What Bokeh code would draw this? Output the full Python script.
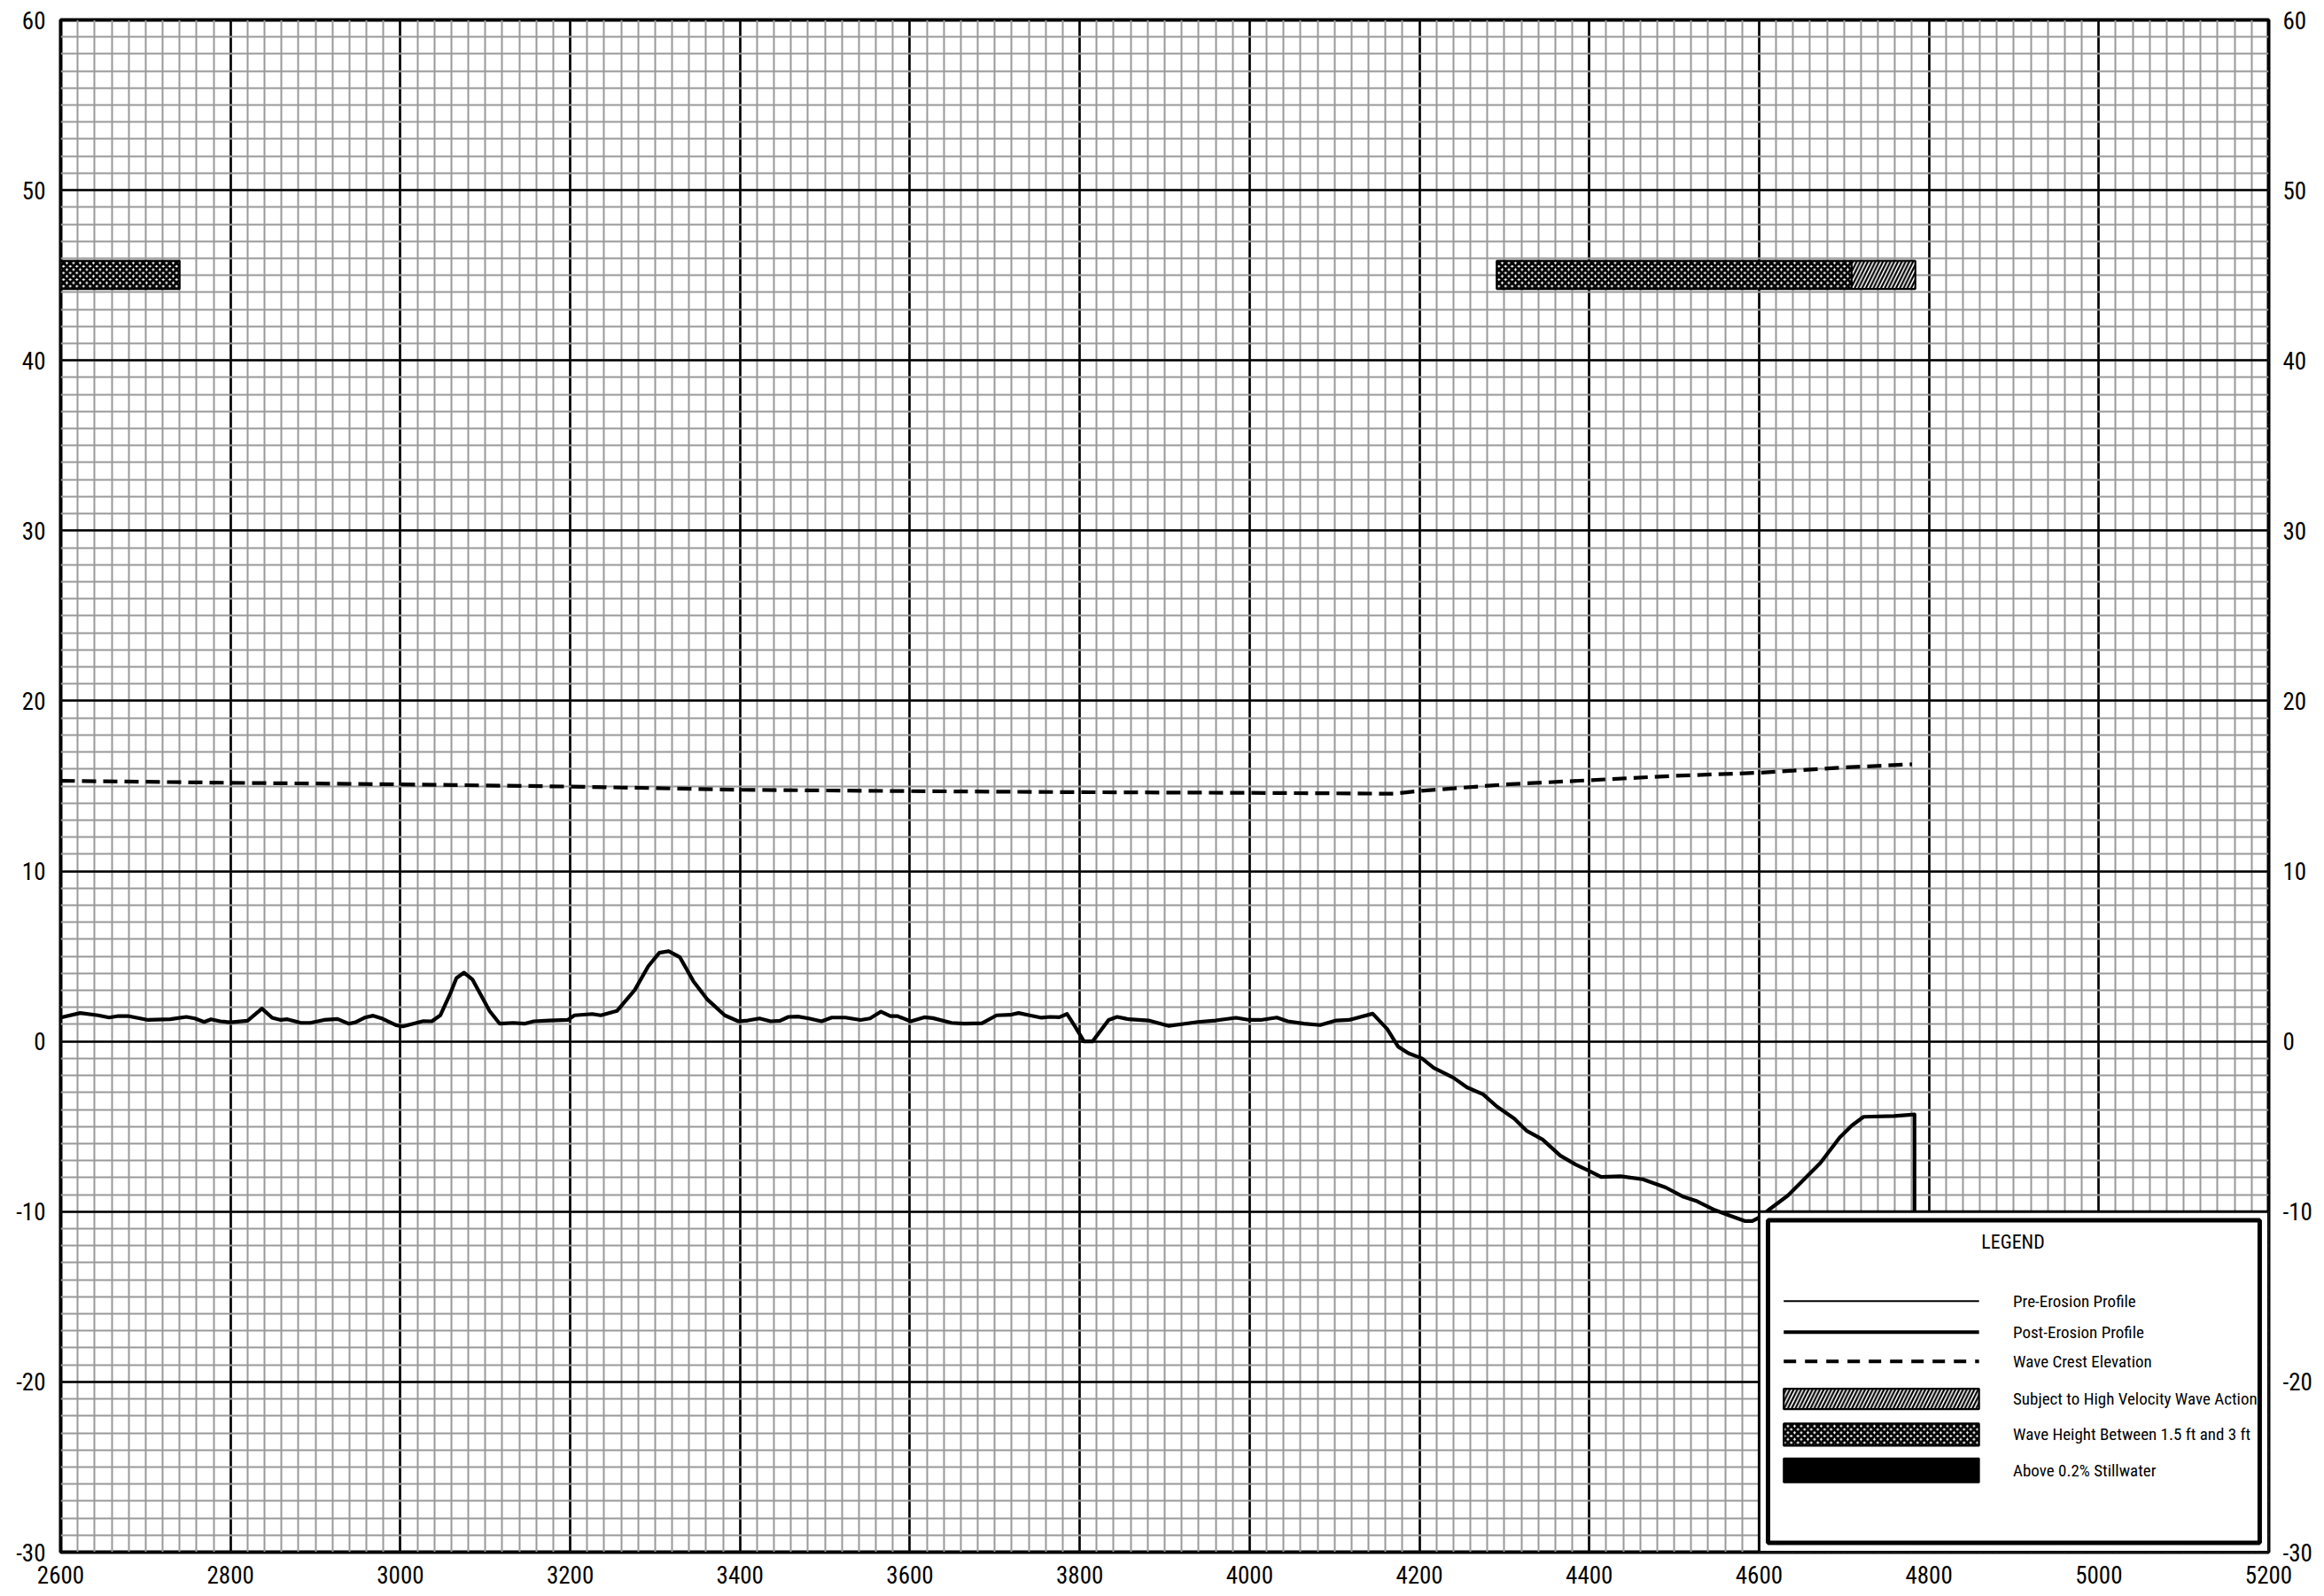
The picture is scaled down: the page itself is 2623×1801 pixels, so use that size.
from bokeh.plotting import figure
from bokeh.models import SingleIntervalTicker, LinearAxis, Range1d, PrintfTickFormatter
from bokeh.core.properties import value
from bokeh.embed import file_html
from bokeh.resources import INLINE

FONT = "'Liberation Sans Narrow', 'Roboto Condensed', 'Noto Sans Condensed', 'Liberation Sans', sans-serif"

# ---- data ----
profile_x = [2600, 2623, 2644, 2657, 2668, 2679, 2703, 2729, 2748, 2758, 2769, 2777, 2788, 2800,
             2820, 2837, 2849, 2859, 2867, 2883, 2894, 2910, 2926, 2939, 2947, 2958, 2968, 2979,
             2995, 3003, 3016, 3027, 3037, 3047, 3059, 3066, 3075, 3085, 3105, 3117, 3133, 3146,
             3157, 3175, 3197, 3205, 3226, 3236, 3255, 3276, 3292, 3305, 3316, 3329, 3345, 3361,
             3382, 3398, 3409, 3423, 3436, 3447, 3457, 3468, 3481, 3496, 3508, 3524, 3542, 3553,
             3566, 3577, 3585, 3601, 3617, 3627, 3649, 3664, 3685, 3702, 3718, 3728, 3741, 3755,
             3765, 3776, 3785, 3794, 3805, 3815, 3834, 3844, 3858, 3881, 3905, 3918, 3939, 3960,
             3984, 4000, 4013, 4032, 4045, 4064, 4083, 4102, 4117, 4145, 4162, 4175, 4187, 4203,
             4217, 4226, 4240, 4256, 4275, 4291, 4312, 4326, 4345, 4366, 4384, 4400, 4414, 4437,
             4463, 4490, 4511, 4527, 4548, 4564, 4583, 4592, 4600, 4611, 4634, 4653, 4672, 4695,
             4709, 4723, 4759, 4783, 4783]
profile_y = [1.40, 1.67, 1.53, 1.40, 1.49, 1.49, 1.26, 1.30, 1.44, 1.35, 1.14, 1.30, 1.18, 1.12,
             1.21, 1.93, 1.39, 1.26, 1.30, 1.09, 1.09, 1.26, 1.32, 1.04, 1.12, 1.40, 1.51, 1.33,
             0.95, 0.88, 1.05, 1.19, 1.18, 1.53, 2.84, 3.72, 4.04, 3.63, 1.79, 1.04, 1.09, 1.04,
             1.18, 1.23, 1.26, 1.53, 1.61, 1.53, 1.79, 3.02, 4.42, 5.21, 5.30, 4.95, 3.54, 2.49,
             1.53, 1.18, 1.23, 1.35, 1.18, 1.21, 1.44, 1.46, 1.35, 1.18, 1.40, 1.40, 1.26, 1.35,
             1.75, 1.49, 1.49, 1.18, 1.42, 1.37, 1.09, 1.04, 1.07, 1.53, 1.56, 1.67, 1.53, 1.39,
             1.44, 1.42, 1.61, 0.91, 0.00, 0.00, 1.26, 1.44, 1.30, 1.23, 0.91, 1.00, 1.14, 1.23,
             1.39, 1.26, 1.26, 1.40, 1.18, 1.04, 0.96, 1.23, 1.26, 1.63, 0.73, -0.31, -0.69, -1.00,
             -1.56, -1.78, -2.13, -2.70, -3.11, -3.82, -4.55, -5.24, -5.76, -6.71, -7.23, -7.61, -7.96, -7.92,
             -8.10, -8.58, -9.13, -9.39, -9.91, -10.21, -10.55, -10.55, -10.35, -9.91, -9.05, -8.10, -7.15, -5.64,
             -4.95, -4.43, -4.38, -4.29, -12.0]

crest_x = [2600, 2800, 3000, 3200, 3400, 3600, 3800, 4000, 4170, 4200, 4300, 4400, 4500, 4600, 4700, 4780]
crest_y = [15.31, 15.19, 15.10, 14.97, 14.78, 14.70, 14.64, 14.60, 14.55, 14.71, 15.09, 15.34, 15.60, 15.78, 16.09, 16.28]

zone_left = [2600, 4291, 4709]
zone_right = [2740, 4709, 4784]
zone_hatch = ["x", "x", "/"]
zone_bottom = 44.2
zone_top = 45.85

legend_title = "LEGEND"
legend_labels = ["Pre-Erosion Profile", "Post-Erosion Profile", "Wave Crest Elevation",
                 "Subject to High Velocity Wave Action", "Wave Height Between 1.5 ft and 3 ft",
                 "Above 0.2% Stillwater"]

x_start, x_end, x_step = 2600, 5200, 200
y_start, y_end, y_step = -30, 60, 10

HATCH = {"x": dict(hatch_scale=7.5, hatch_weight=3.0), "/": dict(hatch_scale=8.5, hatch_weight=2.2)}

# ---- figure ----
p = figure(frame_width=2492, frame_height=1729,
           x_range=Range1d(x_start, x_end), y_range=Range1d(y_start, y_end),
           output_backend="svg", toolbar_location=None,
           min_border_left=68, min_border_right=58, min_border_top=22, min_border_bottom=47)
p.background_fill_color = "white"
p.outline_line_color = "black"
p.outline_line_width = 4

xt = SingleIntervalTicker(interval=x_step, num_minor_ticks=10)
yt = SingleIntervalTicker(interval=y_step, num_minor_ticks=10)
p.xaxis.ticker = xt
p.yaxis.ticker = yt
p.xgrid.ticker = xt
p.ygrid.ticker = yt

for g in (p.xgrid, p.ygrid):
    g.grid_line_color = "black"
    g.grid_line_width = 2.6
    g.grid_line_alpha = 1.0
    g.minor_grid_line_color = "#999999"
    g.minor_grid_line_width = 2

right_axis = LinearAxis(ticker=SingleIntervalTicker(interval=y_step, num_minor_ticks=0))
p.add_layout(right_axis, "right")

for ax in p.axis:
    ax.formatter = PrintfTickFormatter(format="%d")
    ax.axis_line_color = None
    ax.major_tick_line_color = None
    ax.minor_tick_line_color = None
    ax.major_tick_out = 0
    ax.major_tick_in = 0
    ax.minor_tick_out = 0
    ax.minor_tick_in = 0
    ax.major_label_text_font = FONT
    ax.major_label_text_font_size = "27px"
    ax.major_label_text_color = "black"
p.xaxis.major_label_standoff = 15
p.yaxis.major_label_standoff = 17
right_axis.major_label_standoff = 16

# wave zones
for l, r, h in zip(zone_left, zone_right, zone_hatch):
    p.quad(left=[l], right=[r], bottom=[zone_bottom], top=[zone_top],
           fill_color="white", hatch_pattern=h, hatch_color="black", **HATCH[h],
           line_color="black", line_width=2.2)

# wave crest
p.line(crest_x, crest_y, line_color="black", line_width=4.2, line_dash="16 8")
# profile
p.line(profile_x, profile_y, line_color="black", line_width=4.2, line_join="round")

# legend box
p.quad(left=[4600], right=[5200], bottom=[-30], top=[-10], fill_color="white",
       line_color="black", line_width=3)
p.quad(left=[4610.5], right=[5189.5], bottom=[-29.45], top=[-10.5], fill_color=None,
       line_color="black", line_width=5)

p.text(x=[4899], y=[-11.8], text=[legend_title], text_font=value(FONT), text_font_size="22px",
       text_align="center", text_baseline="middle", text_color="black")

lx0, lx1 = 4629, 4859
rows = [-15.25, -17.08, -18.8, -21.0, -23.1, -25.2]
p.line([lx0, lx1], [rows[0], rows[0]], line_color="black", line_width=2)
p.line([lx0, lx1], [rows[1], rows[1]], line_color="black", line_width=4)
p.line([lx0, lx1], [rows[2], rows[2]], line_color="black", line_width=4, line_dash="14 10")
p.quad(left=[lx0], right=[lx1], bottom=[rows[3] - 0.6], top=[rows[3] + 0.6], fill_color="white",
       hatch_pattern="/", hatch_color="black", **HATCH["/"],
       line_color="black", line_width=2.2)
p.quad(left=[lx0], right=[lx1], bottom=[rows[4] - 0.65], top=[rows[4] + 0.65], fill_color="white",
       hatch_pattern="x", hatch_color="black", **HATCH["x"],
       line_color="black", line_width=2.2)
p.quad(left=[lx0], right=[lx1], bottom=[rows[5] - 0.7], top=[rows[5] + 0.7], fill_color="black",
       line_color="black", line_width=2)

p.text(x=[4899] * len(legend_labels), y=rows, text=legend_labels, text_font=value(FONT),
       text_font_size="19px", text_align="left", text_baseline="middle", text_color="black")

open("out.html", "w").write(file_html(p, INLINE))
